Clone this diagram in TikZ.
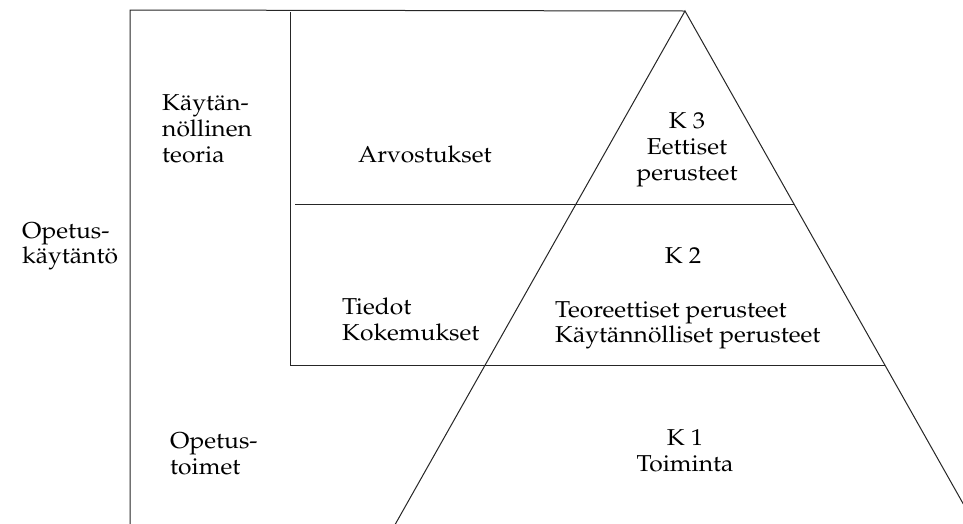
\documentclass[tikz,border=0pt]{standalone}
\usepackage[T1]{fontenc}
\usepackage{mathpazo}
\begin{document}
\begin{tikzpicture}[x=1pt,y=-1pt,
  rule/.style={line width=1pt,draw=black!85},
  lbl/.style={inner sep=0pt,font=\fontsize{23}{26}\selectfont,xscale=1.07,transform shape},
  lw/.style={lbl,anchor=base west},
  lc/.style={lbl,anchor=base}]
% canvas
\fill[white] (0,0) rectangle (963,523);
\path[use as bounding box] (0,0) rectangle (963,523);
\clip (0,0) rectangle (963,523);

% frame and pyramid geometry
\coordinate (tl) at (130,10);
\coordinate (bl) at (130,530);
\coordinate (apex) at (685,11);
\coordinate (ivtop) at (290,12);
\coordinate (ivbot) at (290,365);
\coordinate (m1l) at (295,204);
\coordinate (m1r) at (794,204);
\coordinate (m2r) at (885,365);
\coordinate (legl) at (392,530);
\coordinate (legr) at (978,530);

\draw[rule] (bl) -- (tl) -- (apex);
\draw[rule] (ivtop) -- (ivbot) -- (m2r);
\draw[rule] (m1l) -- (m1r);
\draw[rule] (legl) -- (apex) -- (legr);

% left column
\node[lw] (kt1) at (162,110) {K\"ayt\"an-};
\node[lw] (kt2) at (162,136) {n\"ollinen};
\node[lw] (kt3) at (162,162) {teoria};
\node[lw] (ok1) at (22,238) {Opetus-};
\node[lw] (ok2) at (22,263) {k\"ayt\"ant\"o};
\node[lw] (ot1) at (170,448) {Opetus-};
\node[lw] (ot2) at (170,474) {toimet};

% middle column
\node[lw] (arv) at (358,162) {Arvostukset};
\node[lw] (ti1) at (342,314) {Tiedot};
\node[lw] (ti2) at (342,340) {Kokemukset};

% pyramid levels
\node[lc] (k3a) at (687,128) {K 3};
\node[lc] (k3b) at (687,154) {Eettiset};
\node[lc] (k3c) at (687,180) {perusteet};
\node[lc] (k2a) at (683,263) {K 2};
\node[lw] (k2b) at (555,317) {Teoreettiset perusteet};
\node[lw] (k2c) at (555,342) {K\"ayt\"ann\"olliset perusteet};
\node[lc] (k1a) at (685,445) {K 1};
\node[lc] (k1b) at (685,471) {Toiminta};
\end{tikzpicture}
\end{document}
